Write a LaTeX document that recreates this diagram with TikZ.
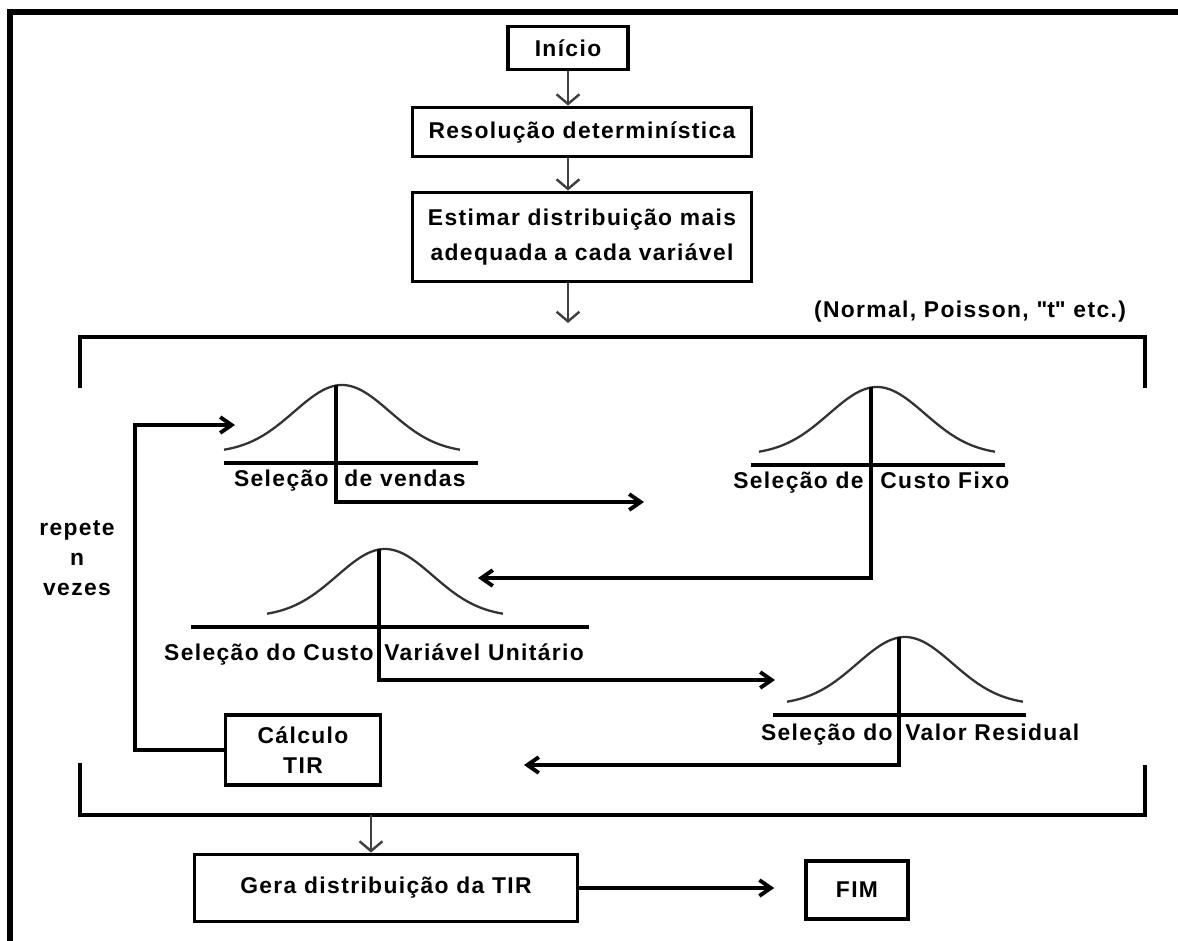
\documentclass[tikz,border=0pt]{standalone}
\usepackage{fontspec}
\setmainfont{Liberation Sans}[LetterSpace=6]
\usetikzlibrary{arrows.meta}
\newcommand{\flowfont}{\bfseries\fontsize{13}{17}\selectfont}

\begin{document}
\begin{tikzpicture}[x=0.02cm, y=-0.02cm,
    box/.style = {draw, line width=2.2pt, align=center, font=\flowfont},
    txt/.style = {font=\flowfont, inner sep=0pt},
    link/.style = {line width=2.2pt, -{Straight Barb[length=6.5pt,width=9pt]}},
    feed/.style = {line width=1.4pt, black!75, -{Straight Barb[length=5.5pt,width=13pt]}},
    bar/.style = {line width=2.3pt},
    bell/.pic = {\draw[line width=1.3pt, black!80] plot[domain=-118:118, samples=50, smooth] ({\x+6}, {-10-68*exp(-(\x*\x)/4600)});}]
    \useasboundingbox (0,0) rectangle (1178,941);
    % Frame
    \draw[line width=3pt] (10,941) -- (10,12) -- (1178,12);
    % Nodes
    \node[box, minimum width=2.4cm, minimum height=0.86cm] (inicio) at (568,48) {Início};
    \node[box, minimum width=6.78cm, minimum height=0.98cm] (resol) at (582,132) {Resolução determinística};
    \node[box, minimum width=6.78cm, minimum height=1.78cm] (estimar) at (582,237) {Estimar distribuição mais\\[3pt] adequada a cada variável};
    \node[txt] (tipos) at (970,312) {(Normal, Poisson, \textquotedbl t\textquotedbl{} etc.)};
    \node[txt, align=center] (repete) at (77,558) {repete\\ n\\ vezes};
    \node[box, minimum width=3.1cm, minimum height=1.4cm] (calc) at (303,750) {Cálculo\\ TIR};
    \node[box, minimum width=7.66cm, minimum height=1.34cm] (gera) at (386,888) {Gera distribuição da TIR};
    \node[box, minimum width=2.04cm, minimum height=1.16cm] (fim) at (857,890) {FIM};
    % Bracket
    \draw[bar] (80,388) -- (80,337) -- (1145,337) -- (1145,388);
    \draw[bar] (80,763) -- (80,815) -- (1145,815) -- (1145,765);
    \coordinate (dist) at (568,323);
    \coordinate (brk) at (371,815);
    % Bells
    \pic at (336,463) {bell};
    \draw[bar] (224,463) -- (478,463);
    \coordinate (vendas) at (336,385);
    \node[txt, anchor=mid east] (vendas-a) at (329,482) {Seleção};
    \node[txt, anchor=mid west] (vendas-b) at (344,482) {de vendas};
    \pic at (871,465) {bell};
    \draw[bar] (751,465) -- (1005,465);
    \coordinate (fixo) at (871,387);
    \node[txt, anchor=mid east] (fixo-a) at (864,484) {Seleção de};
    \node[txt, anchor=mid west] (fixo-b) at (880,484) {Custo Fixo};
    \pic at (379,627) {bell};
    \draw[bar] (191,627) -- (589,627);
    \coordinate (var) at (379,549);
    \node[txt, anchor=mid east] (var-a) at (374,656) {Seleção do Custo};
    \node[txt, anchor=mid west] (var-b) at (384,656) {Variável Unitário};
    \pic at (899,715) {bell};
    \draw[bar] (773,715) -- (1026,715);
    \coordinate (resid) at (899,637);
    \node[txt, anchor=mid east] (resid-a) at (893,736) {Seleção do};
    \node[txt, anchor=mid west] (resid-b) at (905,736) {Valor Residual};
    \coordinate (vendas-in) at (235,425);
    \coordinate (fixo-in) at (644,502);
    \coordinate (var-in) at (478,578);
    \coordinate (resid-in) at (775,680);
    \coordinate (calc-in) at (524,765);
    % Edges
    \draw[feed] (inicio) -- (inicio |- resol.north);
    \draw[feed] (resol.south -| inicio) -- (inicio |- estimar.north);
    \draw[feed] (estimar.south -| inicio) -- (dist);
    \draw[link] (vendas) |- (fixo-in);
    \draw[link] (fixo) |- (var-in);
    \draw[link] (var) |- (resid-in);
    \draw[link] (resid) |- (calc-in);
    \draw[link] (calc.west) -- ++(-89,0) |- (vendas-in);
    \draw[feed] (brk) -- (brk |- gera.north);
    \draw[link, shorten >=17pt] (gera.east) -- (gera.east -| fim.west);
\end{tikzpicture}
\end{document}
